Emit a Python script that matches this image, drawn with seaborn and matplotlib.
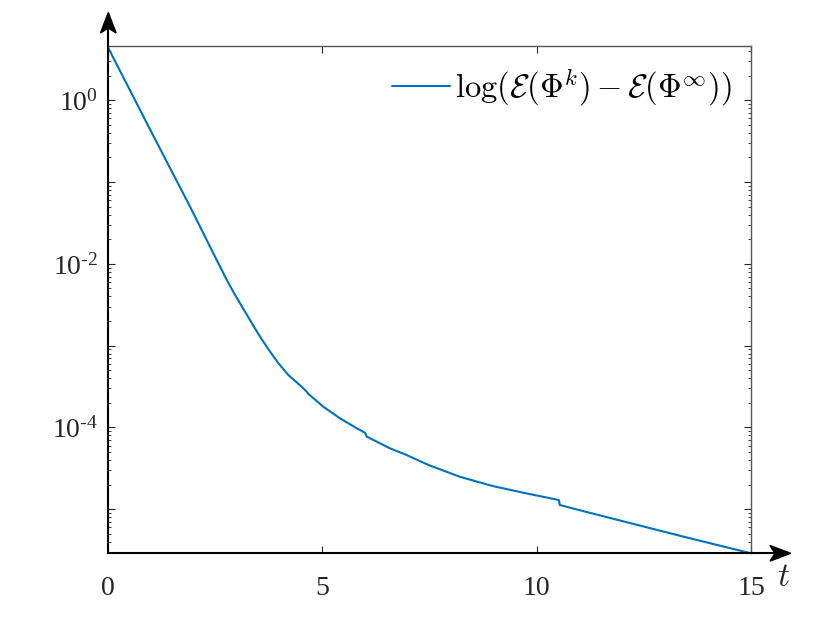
import numpy as np
import pandas as pd
import matplotlib
matplotlib.use("Agg")
import matplotlib.pyplot as plt
import matplotlib.ticker as mticker
from matplotlib.patches import Polygon
from matplotlib.lines import Line2D
import seaborn as sns

# ---- data ----
t_values = [0.0, 1.0, 1.92, 2.23, 2.54, 2.80, 2.97, 3.20, 3.40, 3.59, 3.79,
            3.98, 4.21, 4.52, 4.64, 4.68, 5.03, 5.42, 5.81, 6.00, 6.04, 6.58,
            6.97, 7.48, 8.20, 8.97, 9.75, 10.52, 10.54, 10.99, 12.0, 13.5, 15.0]
err_values = [4.49, 0.427, 0.0500, 0.02366, 0.01117, 6.03e-3, 4.17e-3, 2.61e-3,
              1.74e-3, 1.20e-3, 8.41e-4, 6.10e-4, 4.39e-4, 3.16e-4, 2.74e-4,
              2.57e-4, 1.79e-4, 1.29e-4, 9.77e-5, 8.63e-5, 7.73e-5, 5.57e-5,
              4.61e-5, 3.48e-5, 2.51e-5, 1.93e-5, 1.57e-5, 1.30e-5, 1.13e-5,
              9.79e-6, 7.18e-6, 4.53e-6, 2.90e-6]
series_label = r'$\log(\mathcal{E}(\Phi^k)-\mathcal{E}(\Phi^\infty))$'
x_ticks = [0, 5, 10, 15]
y_major = [1e-5, 1e-4, 1e-3, 1e-2, 1e-1, 1e0]
x_limits = (0, 15)
y_limits = (2.9e-6, 4.6)

df = pd.DataFrame({"t": t_values, "err": err_values})

sns.set_style("ticks")
plt.rcParams["font.family"] = ["Liberation Serif", "DejaVu Serif"]
plt.rcParams["mathtext.fontset"] = "cm"

W, H = 830, 623
fig = plt.figure(figsize=(W / 100, H / 100), dpi=100)
L, R, T, B = 107.7, 751.0, 46.0, 553.3
ax = fig.add_axes([L / W, (H - B) / H, (R - L) / W, (B - T) / H])

sns.lineplot(data=df, x="t", y="err", ax=ax, estimator=None, sort=False,
             color="#0072BD", linewidth=1.5, label=series_label)

ax.set_yscale("log")
ax.set_xlim(*x_limits)
ax.set_ylim(*y_limits)
ax.set_xlabel("")
ax.set_ylabel("")

ax.set_xticks(x_ticks)
ax.set_xticklabels([str(v) for v in x_ticks])
ax.yaxis.set_major_locator(mticker.FixedLocator(y_major))
ax.yaxis.set_minor_locator(mticker.LogLocator(base=10, subs=np.arange(2, 10), numticks=20))

HYPHEN = "\u2010"


def fmt(v, pos):
    e = int(round(np.log10(v)))
    if e % 2 != 0:
        return ""
    if e < 0:
        return "$\\mathregular{10^{" + HYPHEN + str(-e) + "}}$"
    return "$\\mathregular{10^{" + str(e) + "}}$"


ax.yaxis.set_major_formatter(mticker.FuncFormatter(fmt))
ax.yaxis.set_minor_formatter(mticker.NullFormatter())

ax.tick_params(which="both", direction="in", top=True, right=True,
               colors="#262626", labelcolor="#262626", labelsize=20)
ax.tick_params(which="major", length=5, width=0.8)
ax.tick_params(which="minor", length=2.5, width=0.6)
ax.tick_params(axis="x", pad=16)
ax.tick_params(axis="y", pad=7)

for s in ["top", "right"]:
    ax.spines[s].set_color("#555555")
    ax.spines[s].set_linewidth(1.0)
for s in ["left", "bottom"]:
    ax.spines[s].set_color("black")
    ax.spines[s].set_linewidth(1.5)

leg = ax.legend(loc="upper right", frameon=False, fontsize=23.5,
                handlelength=1.78, handletextpad=0.15,
                bbox_to_anchor=(1.0, 1.0), borderaxespad=0.2)
for txt in leg.get_texts():
    txt.set_color("black")


def fx(x):
    return x / W


def fy(y):
    return (H - y) / H


# axis extensions with arrows
fig.add_artist(Line2D([fx(L), fx(L)], [fy(T), fy(22)], color="black", lw=1.5))
fig.add_artist(Polygon([(fx(108.3), fy(12.5)), (fx(100.5), fy(33)),
                        (fx(108.3), fy(28)), (fx(116.1), fy(33))],
                       closed=True, color="black", transform=fig.transFigure))
fig.add_artist(Line2D([fx(R), fx(782)], [fy(B), fy(B)], color="black", lw=1.5))
fig.add_artist(Polygon([(fx(790.7), fy(B)), (fx(770), fy(B - 7.8)),
                        (fx(775), fy(B)), (fx(770), fy(B + 7.8))],
                       closed=True, color="black", transform=fig.transFigure))

fig.text(fx(784), fy(578), r"$t$", fontsize=24, ha="center", va="center")

fig.savefig("out.png", dpi=100)
